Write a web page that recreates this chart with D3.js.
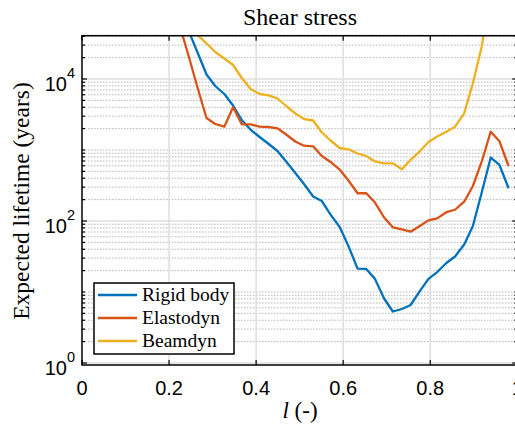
<!DOCTYPE html>
<html><head><meta charset="utf-8">
<script src="https://cdn.jsdelivr.net/npm/d3@7"></script>
<style>body{margin:0;background:#fff} svg{display:block}</style>
</head><body><svg id="c" width="515" height="426"></svg>
<script>
// ---- data ----
const lPos = [0.224, 0.245, 0.265, 0.286, 0.306, 0.327, 0.347, 0.367, 0.388, 0.408, 0.429, 0.449, 0.469, 0.490, 0.510, 0.531, 0.551, 0.571, 0.592, 0.612, 0.633, 0.653, 0.673, 0.694, 0.714, 0.735, 0.755, 0.776, 0.796, 0.816, 0.837, 0.857, 0.878, 0.898, 0.918, 0.939, 0.959, 0.980];
const rigidBody = [93700, 47450, 24010, 11570, 7970, 6150, 4235, 2645, 1912, 1525, 1215, 968, 689, 474, 332, 221, 191, 123, 82.3, 44.5, 21.4, 21.1, 15.3, 8.10, 5.31, 5.76, 6.56, 10.3, 15.3, 19.1, 25.6, 31.6, 46.7, 85.0, 248, 784, 615, 289];
const elastodyn = [57630, 21080, 7715, 2822, 2324, 2129, 3994, 2301, 2301, 2129, 2108, 2021, 1653, 1317, 1150, 1127, 823, 678, 531, 372, 246, 246, 182, 112, 81.5, 76.4, 70.7, 85.0, 102, 109, 133, 144, 187, 311, 678, 1810, 1326, 595];
const beamdyn = [70000, 54000, 41650, 31830, 24010, 19440, 15750, 10330, 7160, 6147, 5894, 5313, 4166, 3267, 2733, 2603, 1764, 1361, 1067, 1023, 893, 823, 689, 650, 650, 535, 728, 959, 1296, 1549, 1804, 2129, 3288, 8700, 28220, 152500, null, null];
const seriesNames = ["Rigid body", "Elastodyn", "Beamdyn"];
const seriesColors = ["#0072BD", "#D95319", "#EDB120"];
const xTicks = [0, 0.2, 0.4, 0.6, 0.8, 1];
const xTickLabels = ["0", "0.2", "0.4", "0.6", "0.8", "1"];
const yTicks = [1, 100, 10000];
const yTickExp = ["0", "2", "4"];
const titleText = "Shear stress";
const yLabelText = "Expected lifetime (years)";

// ---- layout ----
const L = 82, R = 517.3, T = 35.7, B = 365;
const svg = d3.select("#c");
const x = d3.scaleLinear().domain([0, 1]).range([L, R]);
const y = d3.scaleLog().domain([0.937, 40730]).range([B, T]);
const serif = "'Liberation Serif', 'Times New Roman', serif";
const sans = "'Liberation Sans', Arial, sans-serif";

// minor y values
const yMinor = [];
for (let e = 0; e <= 4; e++) for (let m = 1; m <= 9; m++) {
  const v = m * Math.pow(10, e);
  if (v >= y.domain()[0] && v <= y.domain()[1] && !yTicks.includes(v)) yMinor.push(v);
}

const g = svg.append("g");
// minor grid
g.selectAll(".ymin").data(yMinor).enter().append("line")
  .attr("x1", L).attr("x2", R).attr("y1", d => y(d)).attr("y2", d => y(d))
  .attr("stroke", "#b5b5b5").attr("stroke-width", 1).attr("stroke-dasharray", "1.5,1.5");
// major grid
g.selectAll(".ymaj").data(yTicks).enter().append("line")
  .attr("x1", L).attr("x2", R).attr("y1", d => y(d)).attr("y2", d => y(d))
  .attr("stroke", "#dedede").attr("stroke-width", 1.5);
g.selectAll(".xmaj").data(xTicks.slice(1, -1)).enter().append("line")
  .attr("x1", d => x(d)).attr("x2", d => x(d)).attr("y1", T).attr("y2", B)
  .attr("stroke", "#dedede").attr("stroke-width", 1.5);

// clip
svg.append("defs").append("clipPath").attr("id", "pc").append("rect")
  .attr("x", L).attr("y", T).attr("width", R - L).attr("height", B - T);

const series = [rigidBody, elastodyn, beamdyn];
const line = d3.line().defined(d => d[1] != null).x(d => x(d[0])).y(d => y(d[1]));
const lg = svg.append("g").attr("clip-path", "url(#pc)");
series.forEach((s, i) => {
  lg.append("path").attr("d", line(lPos.map((l, j) => [l, s[j]])))
    .attr("fill", "none").attr("stroke", seriesColors[i]).attr("stroke-width", 2.3)
    .attr("stroke-linejoin", "round");
});

// ticks
const ax = svg.append("g").attr("stroke", "#000").attr("stroke-width", 1.2);
xTicks.forEach(t => {
  ax.append("line").attr("x1", x(t)).attr("x2", x(t)).attr("y1", B).attr("y2", B - 5);
  ax.append("line").attr("x1", x(t)).attr("x2", x(t)).attr("y1", T).attr("y2", T + 5);
});
yTicks.forEach(t => {
  ax.append("line").attr("x1", L).attr("x2", L + 5).attr("y1", y(t)).attr("y2", y(t));
  ax.append("line").attr("x1", R).attr("x2", R - 5).attr("y1", y(t)).attr("y2", y(t));
});
yMinor.forEach(t => {
  ax.append("line").attr("x1", L).attr("x2", L + 3).attr("y1", y(t)).attr("y2", y(t));
  ax.append("line").attr("x1", R).attr("x2", R - 3).attr("y1", y(t)).attr("y2", y(t));
});
// box
svg.append("rect").attr("x", L).attr("y", T).attr("width", R - L).attr("height", B - T)
  .attr("fill", "none").attr("stroke", "#000").attr("stroke-width", 1.5);

// tick labels
svg.selectAll(".xl").data(xTicks).enter().append("text")
  .attr("x", d => x(d)).attr("y", 395).attr("text-anchor", "middle")
  .attr("font-family", sans).attr("font-size", 20).text((d, i) => xTickLabels[i]);
yTicks.forEach((t, i) => {
  const tx = svg.append("text").attr("x", 75).attr("y", y(t) + 12).attr("text-anchor", "end")
    .attr("font-family", sans).attr("font-size", 20);
  tx.append("tspan").text("10");
  tx.append("tspan").attr("dy", -13).attr("font-size", 14.5).text(yTickExp[i]);
});

// title and labels
svg.append("text").attr("x", 300).attr("y", 25).attr("text-anchor", "middle")
  .attr("font-family", serif).attr("font-size", 24).text(titleText);
svg.append("text").attr("transform", "translate(29,201) rotate(-90)").attr("text-anchor", "middle")
  .attr("font-family", serif).attr("font-size", 23.5).text(yLabelText);
const xl = svg.append("text").attr("x", 300).attr("y", 418).attr("text-anchor", "middle")
  .attr("font-family", serif).attr("font-size", 23);
xl.append("tspan").attr("font-style", "italic").text("l");
xl.append("tspan").text(" (-)");

// legend
const leg = svg.append("g");
leg.append("rect").attr("x", 94).attr("y", 283).attr("width", 140).attr("height", 71)
  .attr("fill", "#fff").attr("stroke", "#000").attr("stroke-width", 1.5);
seriesNames.forEach((n, i) => {
  const yy = 295 + i * 23;
  leg.append("line").attr("x1", 98).attr("x2", 137).attr("y1", yy).attr("y2", yy)
    .attr("stroke", seriesColors[i]).attr("stroke-width", 2.3);
  leg.append("text").attr("x", 142).attr("y", yy + 6).attr("font-family", serif)
    .attr("font-size", 19.5).text(n);
});
</script></body></html>
